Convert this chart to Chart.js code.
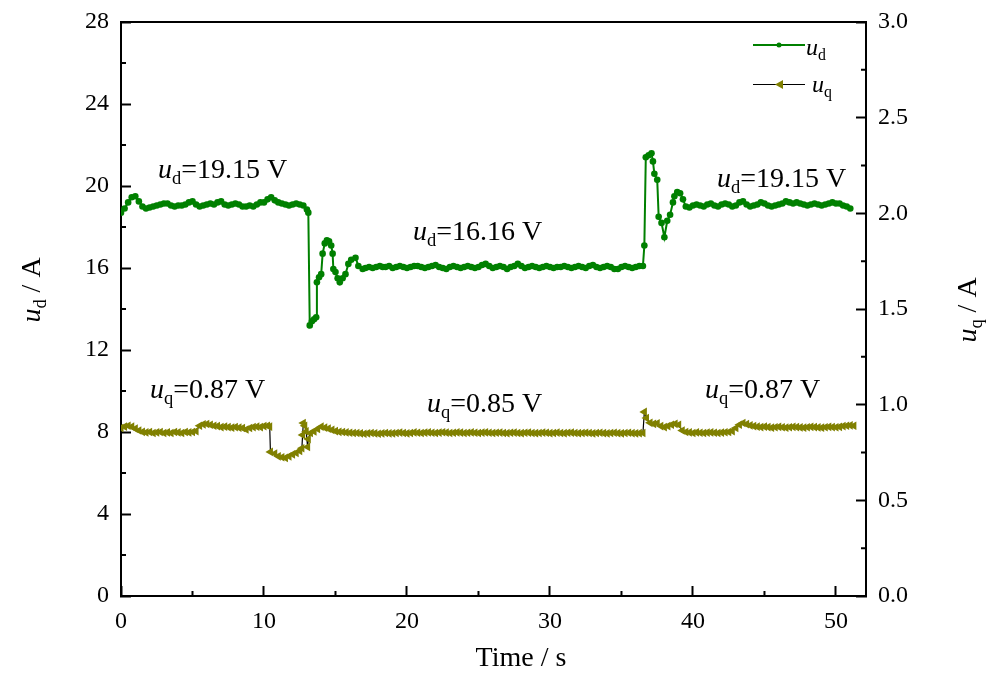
<!DOCTYPE html>
<html>
<head>
<meta charset="utf-8">
<script src="https://cdn.jsdelivr.net/npm/chart.js@4.4.1/dist/chart.umd.min.js"></script>
<style>
  html, body { margin: 0; padding: 0; background: #fff; }
</style>
</head>
<body>
<canvas id="chart" width="988" height="673"></canvas>
<script>
// ---- data ----
// u_d (left axis, V)
const udTime = [
  0,0.25,0.5,0.75,1,1.25,1.5,1.75,2,2.25,2.5,2.75,3,3.25,3.5,3.75,4,4.25,4.5,4.75,
  5,5.25,5.5,5.75,6,6.25,6.5,6.75,7,7.25,7.5,7.75,8,8.25,8.5,8.75,9,9.25,9.5,9.75,
  10,10.25,10.5,10.75,11,11.25,11.5,11.75,12,12.25,12.5,12.75,
  13,13.1,13.2,13.35,13.5,13.65,13.7,13.85,14,14.1,14.25,14.4,14.55,14.7,14.8,14.85,
  15,15.15,15.3,15.5,15.7,15.9,16.1,16.4,16.6,16.9,17.1,17.35,17.6,17.85,18.1,18.3,
  18.5,18.75,19,19.25,19.5,19.75,20,20.25,20.5,20.75,21,21.25,21.5,21.75,22,22.25,22.5,22.75,23,23.25,
  23.5,23.75,24,24.25,24.5,24.75,25,25.25,25.5,25.75,26,26.25,26.5,26.75,27,27.25,27.5,27.75,28,28.25,
  28.5,28.75,29,29.25,29.5,29.75,30,30.25,30.5,30.75,31,31.25,31.5,31.75,32,32.25,32.5,32.75,33,33.25,
  33.5,33.75,34,34.25,34.5,34.75,35,35.25,35.5,35.75,36,36.25,
  36.5,36.6,36.7,36.9,37.1,37.2,37.3,37.5,37.6,37.8,38,38.2,38.4,38.6,38.7,38.9,39.1,39.3,39.5,39.75,
  40,40.25,40.5,40.75,41,41.25,41.5,41.75,42,42.25,42.5,42.75,43,43.25,43.5,43.75,44,44.25,44.5,44.75,
  45,45.25,45.5,45.75,46,46.25,46.5,46.75,47,47.25,47.5,47.75,48,48.25,48.5,48.75,49,49.25,49.5,49.75,
  50,50.25,50.5,50.75,51
];
const udValues = [
  18.7,18.9,19.2,19.45,19.5,19.25,19.0,18.9,18.95,19.0,19.05,19.1,19.15,19.15,19.05,19.0,19.05,19.05,19.1,19.2,
  19.25,19.1,19.0,19.05,19.1,19.15,19.1,19.2,19.25,19.1,19.05,19.1,19.15,19.1,19.0,19.0,19.05,19.0,19.1,19.2,
  19.2,19.35,19.45,19.3,19.2,19.15,19.1,19.05,19.1,19.15,19.1,19.05,
  18.85,18.7,13.2,13.4,13.5,13.6,15.3,15.55,15.7,16.7,17.2,17.35,17.3,17.1,16.7,15.95,
  15.8,15.5,15.3,15.5,15.7,16.2,16.4,16.5,16.1,15.95,16.0,16.05,16.0,16.05,16.1,16.05,
  16.05,16.1,16.0,16.05,16.1,16.05,16.0,16.05,16.1,16.1,16.05,16.0,16.05,16.1,16.15,16.05,16.0,15.95,16.05,16.1,
  16.05,16.0,16.05,16.1,16.05,16.0,16.05,16.15,16.2,16.1,16.0,16.05,16.1,16.05,15.95,16.05,16.1,16.2,16.1,16.0,
  16.05,16.1,16.05,16.0,16.05,16.1,16.05,16.0,16.05,16.05,16.1,16.05,16.0,16.05,16.1,16.05,16.0,16.1,16.15,16.05,
  16.0,16.05,16.1,16.05,15.95,15.95,16.05,16.1,16.05,16.0,16.05,16.1,
  16.1,17.1,21.4,21.5,21.6,21.2,20.6,20.3,18.5,18.2,17.5,18.3,18.6,19.2,19.5,19.7,19.65,19.35,19.0,18.95,
  19.05,19.1,19.05,19.0,19.1,19.15,19.05,19.0,19.1,19.15,19.1,19.0,19.05,19.2,19.25,19.1,19.0,19.05,19.1,19.2,
  19.15,19.05,19.0,19.05,19.1,19.15,19.25,19.2,19.15,19.2,19.15,19.1,19.05,19.1,19.15,19.1,19.05,19.1,19.15,19.2,
  19.15,19.15,19.05,19.0,18.9
];

// u_q (right axis, V)
const uqTime = [
  0,0.25,0.5,0.75,1,1.25,1.5,1.75,2,2.25,2.5,2.75,3,3.25,3.5,3.75,4,4.25,4.5,4.75,
  5,5.25,5.5,5.75,6,6.25,6.5,6.75,7,7.25,7.5,7.75,8,8.25,8.5,8.75,9,9.25,9.5,9.75,
  10,10.25,
  10.4,10.45,10.75,11,11.25,11.5,11.75,12,12.25,12.5,12.65,12.7,12.75,12.85,12.95,
  13.05,13.1,13.25,13.5,13.75,14,14.25,14.5,14.75,15,15.25,15.5,15.75,16,16.25,
  16.5,16.75,17,17.25,17.5,17.75,18,18.25,18.5,18.75,19,19.25,19.5,19.75,20,20.25,20.5,20.75,21,21.25,
  21.5,21.75,22,22.25,22.5,22.75,23,23.25,23.5,23.75,24,24.25,24.5,24.75,25,25.25,25.5,25.75,26,26.25,
  26.5,26.75,27,27.25,27.5,27.75,28,28.25,28.5,28.75,29,29.25,29.5,29.75,30,30.25,30.5,30.75,31,31.25,
  31.5,31.75,32,32.25,32.5,32.75,33,33.25,33.5,33.75,34,34.25,34.5,34.75,35,35.25,35.5,35.75,36,36.25,
  36.5,
  36.6,36.75,37,37.25,37.5,37.75,38,38.25,38.5,38.75,39,39.25,39.5,
  39.75,40,40.25,40.5,40.75,41,41.25,41.5,41.75,42,42.25,42.5,42.75,43,43.25,43.5,43.75,44,44.25,44.5,
  44.75,45,45.25,45.5,45.75,46,46.25,46.5,46.75,47,47.25,47.5,47.75,48,48.25,48.5,48.75,49,49.25,49.5,
  49.75,50,50.25,50.5,50.75,51,51.25
];
const uqValues = [
  0.878,0.885,0.89,0.885,0.875,0.865,0.858,0.855,0.857,0.852,0.855,0.857,0.852,0.855,0.852,0.857,0.855,0.852,0.857,0.855,
  0.857,0.862,0.89,0.897,0.899,0.895,0.89,0.888,0.883,0.885,0.883,0.88,0.883,0.88,0.878,0.87,0.878,0.883,0.885,0.883,
  0.888,0.89,
  0.885,0.753,0.745,0.73,0.725,0.722,0.73,0.74,0.748,0.758,0.772,0.842,0.904,0.89,0.86,
  0.779,0.82,0.852,0.86,0.873,0.885,0.88,0.875,0.868,0.862,0.858,0.857,0.855,0.853,0.852,
  0.852,0.85,0.848,0.85,0.852,0.85,0.848,0.85,0.852,0.85,0.85,0.852,0.854,0.852,0.85,0.852,0.855,0.853,0.852,0.854,
  0.855,0.853,0.852,0.854,0.856,0.854,0.852,0.853,0.855,0.854,0.852,0.853,0.855,0.853,0.852,0.854,0.855,0.853,0.852,0.853,
  0.854,0.852,0.851,0.853,0.854,0.852,0.851,0.853,0.854,0.852,0.851,0.852,0.854,0.853,0.851,0.852,0.854,0.852,0.851,0.853,
  0.854,0.852,0.851,0.852,0.853,0.852,0.85,0.852,0.853,0.851,0.85,0.852,0.853,0.851,0.85,0.852,0.853,0.851,0.85,0.851,
  0.852,
  0.962,0.93,0.905,0.9,0.903,0.888,0.883,0.888,0.895,0.9,0.895,0.865,0.857,
  0.855,0.852,0.855,0.853,0.852,0.854,0.855,0.853,0.852,0.854,0.856,0.857,0.862,0.878,0.895,0.904,0.898,0.892,0.888,0.885,
  0.883,0.885,0.883,0.88,0.882,0.884,0.882,0.88,0.882,0.884,0.883,0.881,0.88,0.882,0.884,0.883,0.881,0.88,0.882,0.884,
  0.883,0.882,0.884,0.888,0.89,0.892,0.89
];

// minor tick positions
const xMinor = [5, 15, 25, 35, 45];
const leftMinor = [2, 6, 10, 14, 18, 22, 26];
const rightMinor = [0.25, 0.75, 1.25, 1.75, 2.25, 2.75];

const FONT = '"Liberation Serif", "Times New Roman", serif';
const GREEN = '#008000';
const OLIVE = '#808000';
const NOTE_SIZE = 28;

// text with italic / subscript pieces
function richWidth(ctx, parts, size) {
  let w = 0;
  parts.forEach(([t, s]) => {
    const fs = s === 's' ? size * 0.66 : size;
    ctx.font = (s === 'i' ? 'italic ' : '') + fs + 'px ' + FONT;
    w += ctx.measureText(t).width;
  });
  return w;
}
function drawRich(ctx, x, y, parts, size) {
  let cx = x;
  parts.forEach(([t, s]) => {
    const fs = s === 's' ? size * 0.66 : size;
    const dy = s === 's' ? size * 0.22 : 0;
    ctx.font = (s === 'i' ? 'italic ' : '') + fs + 'px ' + FONT;
    ctx.fillText(t, cx, y + dy);
    cx += ctx.measureText(t).width;
  });
}

const notes = [
  { x: 158, y: 178, parts: [['u', 'i'], ['d', 's'], ['=19.15 V', '']] },
  { x: 413, y: 240, parts: [['u', 'i'], ['d', 's'], ['=16.16 V', '']] },
  { x: 717, y: 187, parts: [['u', 'i'], ['d', 's'], ['=19.15 V', '']] },
  { x: 150, y: 398, parts: [['u', 'i'], ['q', 's'], ['=0.87 V', '']] },
  { x: 427, y: 412, parts: [['u', 'i'], ['q', 's'], ['=0.85 V', '']] },
  { x: 705, y: 398, parts: [['u', 'i'], ['q', 's'], ['=0.87 V', '']] }
];

const decor = {
  id: 'decor',
  afterDraw(chart) {
    const ctx = chart.ctx;
    const area = chart.chartArea;
    const { x, y, y1 } = chart.scales;
    ctx.save();
    ctx.strokeStyle = '#000';
    ctx.lineWidth = 2;
    // top frame line
    ctx.beginPath();
    ctx.moveTo(area.left - 1, area.top);
    ctx.lineTo(area.right + 1, area.top);
    ctx.stroke();
    // minor ticks
    ctx.beginPath();
    xMinor.forEach(v => {
      const px = x.getPixelForValue(v);
      ctx.moveTo(px, area.bottom);
      ctx.lineTo(px, area.bottom - 5);
    });
    leftMinor.forEach(v => {
      const py = y.getPixelForValue(v);
      ctx.moveTo(area.left, py);
      ctx.lineTo(area.left + 5, py);
    });
    rightMinor.forEach(v => {
      const py = y1.getPixelForValue(v);
      ctx.moveTo(area.right, py);
      ctx.lineTo(area.right - 5, py);
    });
    ctx.stroke();

    ctx.fillStyle = '#000';
    ctx.textBaseline = 'alphabetic';
    ctx.textAlign = 'left';
    notes.forEach(n => drawRich(ctx, n.x, n.y, n.parts, NOTE_SIZE));

    // axis titles
    ctx.font = NOTE_SIZE + 'px ' + FONT;
    const tw = ctx.measureText('Time / s').width;
    ctx.fillText('Time / s', 521 - tw / 2, 666);

    const leftT = [['u', 'i'], ['d', 's'], [' / A', '']];
    ctx.save();
    ctx.translate(40, 290);
    ctx.rotate(-Math.PI / 2);
    drawRich(ctx, -richWidth(ctx, leftT, NOTE_SIZE) / 2, 0, leftT, NOTE_SIZE);
    ctx.restore();

    const rightT = [['u', 'i'], ['q', 's'], [' / A', '']];
    ctx.save();
    ctx.translate(976, 310);
    ctx.rotate(-Math.PI / 2);
    drawRich(ctx, -richWidth(ctx, rightT, NOTE_SIZE) / 2, 0, rightT, NOTE_SIZE);
    ctx.restore();

    // legend
    ctx.lineWidth = 2;
    ctx.strokeStyle = GREEN;
    ctx.beginPath();
    ctx.moveTo(753, 45); ctx.lineTo(805, 45);
    ctx.stroke();
    ctx.fillStyle = GREEN;
    ctx.beginPath();
    ctx.arc(779, 45, 2.5, 0, Math.PI * 2);
    ctx.fill();
    ctx.strokeStyle = '#000';
    ctx.lineWidth = 1;
    ctx.beginPath();
    ctx.moveTo(753, 84.5); ctx.lineTo(805, 84.5);
    ctx.stroke();
    ctx.fillStyle = OLIVE;
    ctx.beginPath();
    ctx.moveTo(775, 84.5); ctx.lineTo(783, 80); ctx.lineTo(783, 89);
    ctx.closePath();
    ctx.fill();
    ctx.fillStyle = '#000';
    drawRich(ctx, 806, 55, [['u', 'i'], ['d', 's']], 24);
    drawRich(ctx, 812, 92, [['u', 'i'], ['q', 's']], 24);
    ctx.restore();
  }
};

const tickFont = { family: FONT, size: 24 };

// scale labels overhang the ends; the plot box itself is fixed by the layout padding
function noEndPadding(s) {
  s.paddingTop = 0;
  s.paddingBottom = 0;
}

new Chart(document.getElementById('chart'), {
  type: 'line',
  data: {
    datasets: [
      {
        label: 'ud',
        data: udTime.map((t, i) => ({ x: t, y: udValues[i] })),
        yAxisID: 'y',
        borderColor: GREEN,
        borderWidth: 2,
        pointRadius: 3.3,
        pointBackgroundColor: GREEN,
        pointBorderColor: GREEN,
        pointBorderWidth: 0,
        tension: 0
      },
      {
        label: 'uq',
        data: uqTime.map((t, i) => ({ x: t, y: uqValues[i] })),
        yAxisID: 'y1',
        borderColor: '#000',
        borderWidth: 1.2,
        pointStyle: 'triangle',
        pointRotation: -90,
        pointRadius: 5,
        pointBackgroundColor: OLIVE,
        pointBorderColor: OLIVE,
        pointBorderWidth: 0,
        tension: 0
      }
    ]
  },
  options: {
    responsive: false,
    animation: false,
    layout: { padding: { top: 22, left: 0, right: 0, bottom: 0 } },
    plugins: { legend: { display: false }, tooltip: { enabled: false } },
    scales: {
      x: {
        type: 'linear',
        min: 0,
        max: 52.1,
        ticks: { stepSize: 10, includeBounds: false, padding: 21, color: '#000', font: tickFont },
        grid: { drawOnChartArea: false, tickLength: -10, tickWidth: 2, tickColor: '#000' },
        border: { color: '#000', width: 2 },
        afterFit: s => { s.height = 77; s.paddingLeft = 0; s.paddingRight = 0; }
      },
      y: {
        position: 'left',
        min: 0,
        max: 28,
        ticks: { stepSize: 4, padding: 22, color: '#000', font: tickFont },
        grid: { drawOnChartArea: false, tickLength: -10, tickWidth: 2, tickColor: '#000' },
        border: { color: '#000', width: 2 },
        afterFit: s => { s.width = 121; noEndPadding(s); }
      },
      y1: {
        position: 'right',
        min: 0,
        max: 3,
        ticks: { stepSize: 0.5, padding: 22, color: '#000', font: tickFont, callback: v => v.toFixed(1) },
        grid: { drawOnChartArea: false, tickLength: -10, tickWidth: 2, tickColor: '#000' },
        border: { color: '#000', width: 2 },
        afterFit: s => { s.width = 122; noEndPadding(s); }
      }
    }
  },
  plugins: [decor]
});
</script>
</body>
</html>
